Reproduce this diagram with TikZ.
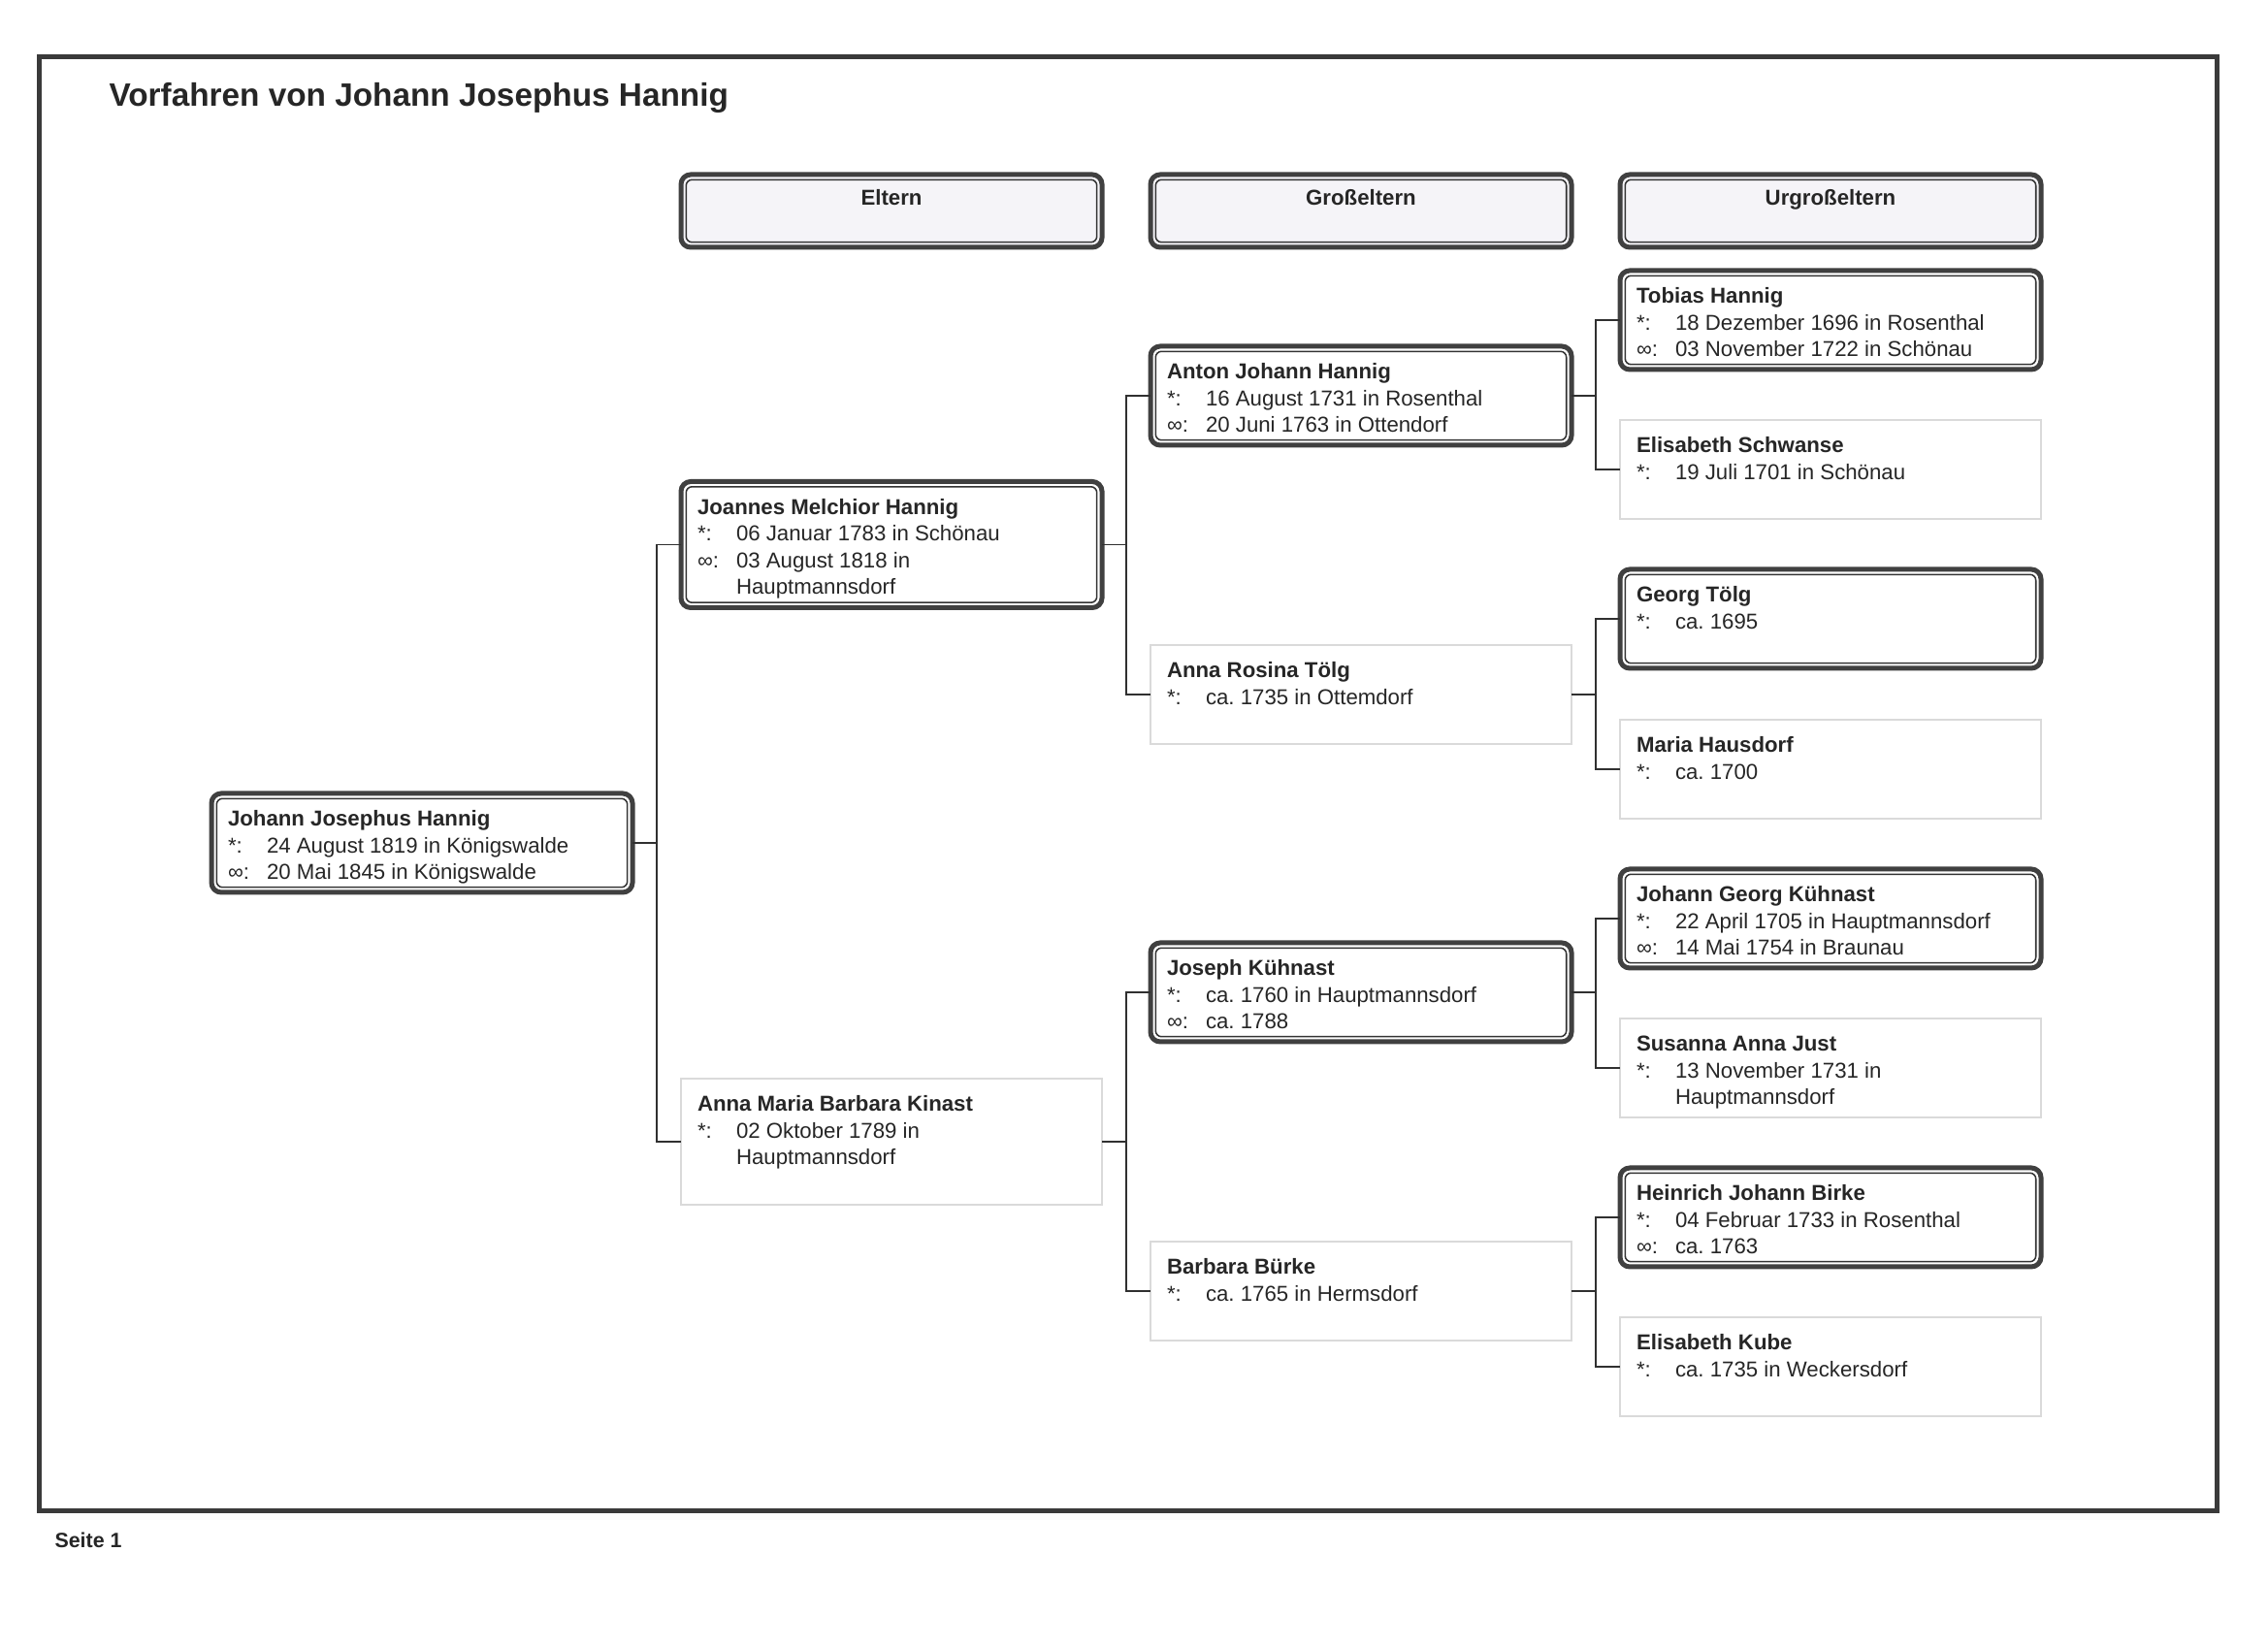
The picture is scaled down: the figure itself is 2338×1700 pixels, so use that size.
\documentclass[tikz,border=0pt]{standalone}
\usepackage{fontspec}
\setmainfont{Liberation Sans}
\definecolor{framecol}{HTML}{3A3A3A}
\definecolor{bordercol}{HTML}{404040}
\definecolor{innercol}{HTML}{333333}
\definecolor{txtcol}{HTML}{262626}
\definecolor{femcol}{HTML}{DADADA}
\definecolor{conncol}{HTML}{303030}
\definecolor{hdrfill}{HTML}{F5F4F8}
\newcommand\geb{*:}
\newcommand\verh{∞:}
\newcommand\entry[3]{\parbox[c][#1][t]{156.24pt}{\frenchspacing\hspace*{6.12pt}\begin{tabular}[t]{@{}p{14.4pt}@{}l@{}}\multicolumn{2}{@{}l@{}}{\rule{0pt}{12.2pt}\textbf{#2}}\\#3\end{tabular}}}
\begin{document}
\frenchspacing
\begin{tikzpicture}[x=0.36pt,y=-0.36pt,
  dbl/.style={draw=bordercol, line width=1.8pt, rounded corners=3.6pt,
    path picture={\draw[draw=innercol, line width=0.55pt, rounded corners=2.2pt]
      ([shift={(1.9pt,-1.9pt)}]path picture bounding box.north west) rectangle
      ([shift={(-1.9pt,1.9pt)}]path picture bounding box.south east);}},
  person/.style={inner sep=0pt, outer sep=0pt, text=txtcol, font=\fontsize{8}{9.9}\selectfont},
  male/.style={person, dbl, fill=white},
  female/.style={person, draw=femcol, line width=0.5pt, fill=white},
  hdr/.style={inner sep=0pt, outer sep=0pt, dbl, fill=hdrfill, text=txtcol, font=\fontsize{8}{9.9}\selectfont\bfseries},
  conn/.style={draw=conncol, line width=0.7pt}]
\useasboundingbox (0,0) rectangle (2338,1700);
\fill[white] (0,0) rectangle (2338,1700);
% frame
\draw[line width=1.8pt, framecol] (40.5,58.5) rectangle (2285.5,1557.5);
% title and footer
\node[anchor=base west, inner sep=0pt, font=\fontsize{12}{14}\selectfont\bfseries, text=txtcol] (title) at (112,110) {Vorfahren von Johann Josephus Hannig};
\node[anchor=base west, inner sep=0pt, font=\fontsize{7.7}{9}\selectfont\bfseries, text=txtcol] (seite) at (56,1595) {Seite 1};
% headers
\node[hdr] (h1) at (919,217.5) {\parbox[c][27pt][t]{156.24pt}{\centering\rule{0pt}{11.52pt}Eltern}};
\node[hdr] (h2) at (1403,217.5) {\parbox[c][27pt][t]{156.24pt}{\centering\rule{0pt}{11.52pt}Großeltern}};
\node[hdr] (h3) at (1887,217.5) {\parbox[c][27pt][t]{156.24pt}{\centering\rule{0pt}{11.52pt}Urgroßeltern}};
% generation 0
\node[male] (p0) at (435,869) {\entry{36.72pt}{Johann Josephus Hannig}{\geb & 24 August 1819 in Königswalde\\ \verh & 20 Mai 1845 in Königswalde}};
% generation 1
\node[male] (p1) at (919,561.5) {\entry{46.8pt}{Joannes Melchior Hannig}{\geb & 06 Januar 1783 in Schönau\\ \verh & 03 August 1818 in\\ & Hauptmannsdorf}};
\node[female] (p2) at (919,1177) {\entry{46.8pt}{Anna Maria Barbara Kinast}{\geb & 02 Oktober 1789 in\\ & Hauptmannsdorf}};
% generation 2
\node[male] (p3) at (1403,408) {\entry{36.72pt}{Anton Johann Hannig}{\geb & 16 August 1731 in Rosenthal\\ \verh & 20 Juni 1763 in Ottendorf}};
\node[female] (p4) at (1403,716) {\entry{36.72pt}{Anna Rosina Tölg}{\geb & ca. 1735 in Ottemdorf}};
\node[male] (p5) at (1403,1023) {\entry{36.72pt}{Joseph Kühnast}{\geb & ca. 1760 in Hauptmannsdorf\\ \verh & ca. 1788}};
\node[female] (p6) at (1403,1331) {\entry{36.72pt}{Barbara Bürke}{\geb & ca. 1765 in Hermsdorf}};
% generation 3
\node[male] (p7) at (1887,330) {\entry{36.72pt}{Tobias Hannig}{\geb & 18 Dezember 1696 in Rosenthal\\ \verh & 03 November 1722 in Schönau}};
\node[female] (p8) at (1887,484) {\entry{36.72pt}{Elisabeth Schwanse}{\geb & 19 Juli 1701 in Schönau}};
\node[male] (p9) at (1887,638) {\entry{36.72pt}{Georg Tölg}{\geb & ca. 1695}};
\node[female] (p10) at (1887,793) {\entry{36.72pt}{Maria Hausdorf}{\geb & ca. 1700}};
\node[male] (p11) at (1887,947) {\entry{36.72pt}{Johann Georg Kühnast}{\geb & 22 April 1705 in Hauptmannsdorf\\ \verh & 14 Mai 1754 in Braunau}};
\node[female] (p12) at (1887,1101) {\entry{36.72pt}{Susanna Anna Just}{\geb & 13 November 1731 in\\ & Hauptmannsdorf}};
\node[male] (p13) at (1887,1255) {\entry{36.72pt}{Heinrich Johann Birke}{\geb & 04 Februar 1733 in Rosenthal\\ \verh & ca. 1763}};
\node[female] (p14) at (1887,1409) {\entry{36.72pt}{Elisabeth Kube}{\geb & ca. 1735 in Weckersdorf}};
% connectors
\foreach \c/\f/\m in {p0/p1/p2, p1/p3/p4, p2/p5/p6, p3/p7/p8, p4/p9/p10, p5/p11/p12, p6/p13/p14} {
  \draw[conn] (\c.east) -- ++(25,0) coordinate (\c-j);
  \draw[conn] (\f.west) -| (\c-j) |- (\m.west);
}
\end{tikzpicture}
\end{document}
